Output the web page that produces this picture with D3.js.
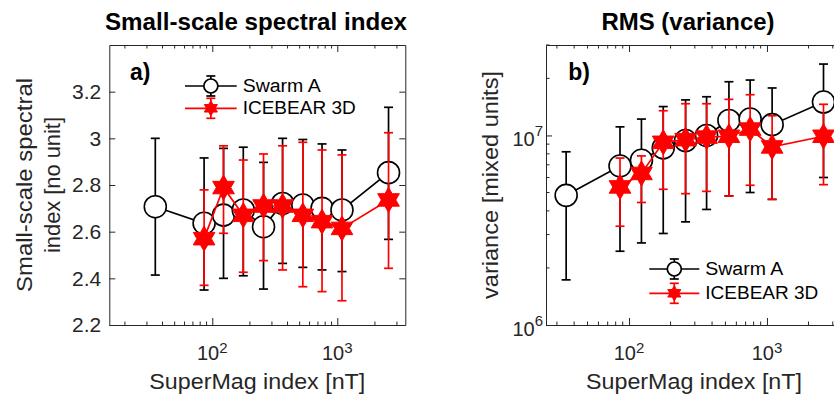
<!DOCTYPE html>
<html>
<head>
<meta charset="utf-8">
<script src="https://cdn.jsdelivr.net/npm/d3@7"></script>
<style>
  body { margin: 0; background: #fff; }
  svg { display: block; font-family: "Liberation Sans", Arial, Helvetica, sans-serif; }
</style>
</head>
<body>
<svg id="chart"></svg>
<script>
// SuperMag index bins [nT]
const smIndex = [35, 86, 123, 177, 257, 365, 530, 755, 1090, 2570];
const iceIndex = [86, 123, 177, 257, 365, 530, 755, 1090, 2570];

// a) small-scale spectral index
const swarmSlope   = [2.707, 2.636, 2.671, 2.693, 2.621, 2.721, 2.714, 2.700, 2.693, 2.853];
const swarmSlopeLo = [2.414, 2.350, 2.400, 2.411, 2.354, 2.464, 2.447, 2.436, 2.429, 2.567];
const swarmSlopeHi = [3.000, 2.916, 2.957, 2.962, 2.897, 3.000, 2.995, 2.976, 2.950, 3.133];
const iceSlope   = [2.570, 2.789, 2.670, 2.710, 2.710, 2.670, 2.643, 2.614, 2.736];
const iceSlopeLo = [2.370, 2.593, 2.426, 2.476, 2.436, 2.364, 2.343, 2.304, 2.443];
const iceSlopeHi = [2.779, 2.968, 2.907, 2.933, 2.968, 2.983, 2.950, 2.929, 3.024];

// b) variance
const swarmVar   = [4.83e6, 6.9e6, 7.4e6, 8.6e6, 9.4e6, 1.0e7, 1.2e7, 1.22e7, 1.14e7, 1.5e7];
const swarmVarLo = [1.73e6, 2.45e6, 2.71e6, 3.04e6, 3.5e6, 4.07e6, 4.8e6, 5.0e6, 4.6e6, 6.0e6];
const swarmVarHi = [8.2e6, 1.11e7, 1.22e7, 1.42e7, 1.54e7, 1.6e7, 1.92e7, 1.96e7, 1.78e7, 2.38e7];
const iceVar   = [5.35e6, 6.3e6, 9.2e6, 9.5e6, 9.8e6, 9.9e6, 1.08e7, 8.7e6, 9.9e6];
const iceVarLo = [3.32e6, 4.43e6, 5.2e6, 4.93e6, 5.07e6, 4.79e6, 5.46e6, 4.6e6, 5.5e6];
const iceVarHi = [7.6e6, 7.8e6, 1.35e7, 1.47e7, 1.47e7, 1.55e7, 1.64e7, 1.27e7, 1.46e7];

// ticks
const xMajor = [100, 1000];
const xMinor = [20, 30, 40, 50, 60, 70, 80, 90, 200, 300, 400, 500, 600, 700, 800, 900, 2000, 3000];
const slopeTicks = [2.2, 2.4, 2.6, 2.8, 3.0, 3.2];
const varMajor = [1e6, 1e7];
const varMinor = [2e6, 3e6, 4e6, 5e6, 6e6, 7e6, 8e6, 9e6, 2e7, 3e7];

const seriesNames = ["Swarm A", "ICEBEAR 3D"];

const width = 834;
const height = 396;
const axisColor = "#262626";

let svg = d3.select("#chart").attr("width", width).attr("height", height);

// MATLAB style hexagram marker
function hexagram(r) {
    let pts = [];
    for (let k = 0; k < 12; k++) {
        let a = -Math.PI / 2 + k * Math.PI / 6;
        let rr = k % 2 === 0 ? r : r / Math.sqrt(3);
        pts.push([rr * Math.cos(a), rr * Math.sin(a)]);
    }
    return "M" + pts.map(p => p[0].toFixed(2) + "," + p[1].toFixed(2)).join("L") + "Z";
}

function drawSeries(g, x, y, xs, vals, lo, hi, color, marker) {
    let pts = xs.map((d, i) => ({ x: d, v: vals[i], lo: lo[i], hi: hi[i] }));

    g.append("path")
        .datum(pts)
        .attr("fill", "none")
        .attr("stroke", color)
        .attr("stroke-width", 1.7)
        .attr("d", d3.line().x(d => x(d.x)).y(d => y(d.v)));

    let eb = g.append("g").attr("stroke", color).attr("stroke-width", 1.7);
    eb.selectAll(".stem").data(pts).join("line")
        .attr("x1", d => x(d.x)).attr("x2", d => x(d.x))
        .attr("y1", d => y(d.lo)).attr("y2", d => y(d.hi));
    eb.selectAll(".capHi").data(pts).join("line")
        .attr("x1", d => x(d.x) - 4.5).attr("x2", d => x(d.x) + 4.5)
        .attr("y1", d => y(d.hi)).attr("y2", d => y(d.hi));
    eb.selectAll(".capLo").data(pts).join("line")
        .attr("x1", d => x(d.x) - 4.5).attr("x2", d => x(d.x) + 4.5)
        .attr("y1", d => y(d.lo)).attr("y2", d => y(d.lo));

    if (marker === "circle") {
        g.selectAll(".mk-circle").data(pts).join("circle")
            .attr("cx", d => x(d.x)).attr("cy", d => y(d.v)).attr("r", 11)
            .attr("fill", "#fff").attr("stroke", color).attr("stroke-width", 1.6);
    } else {
        g.selectAll(".mk-star").data(pts).join("path")
            .attr("transform", d => `translate(${x(d.x)},${y(d.v)})`)
            .attr("d", hexagram(12.5))
            .attr("fill", color).attr("stroke", color).attr("stroke-width", 1);
    }
}

function drawLegend(g, lg) {
    let rows = [
        { name: seriesNames[0], color: "#000", marker: "circle", len: 78 },
        { name: seriesNames[1], color: "#ff0000", marker: "star", len: 113 }
    ];
    rows.forEach((r, i) => {
        let yy = lg.y[i];
        let xm = (lg.x0 + lg.x1) / 2;
        let row = g.append("g").attr("stroke", r.color).attr("stroke-width", 1.7);
        row.append("line").attr("x1", lg.x0).attr("x2", lg.x1).attr("y1", yy).attr("y2", yy);
        row.append("line").attr("x1", xm).attr("x2", xm).attr("y1", yy - 10).attr("y2", yy + 10);
        row.append("line").attr("x1", xm - 4.5).attr("x2", xm + 4.5).attr("y1", yy - 10).attr("y2", yy - 10);
        row.append("line").attr("x1", xm - 4.5).attr("x2", xm + 4.5).attr("y1", yy + 10).attr("y2", yy + 10);
        if (r.marker === "circle") {
            row.append("circle").attr("cx", xm).attr("cy", yy).attr("r", 7).attr("fill", "#fff");
        } else {
            row.append("path").attr("transform", `translate(${xm},${yy})`)
                .attr("d", hexagram(7.5)).attr("fill", r.color).attr("stroke-width", 1);
        }
        g.append("text")
            .attr("x", lg.x1 + 6).attr("y", yy + 6)
            .attr("font-size", 18).attr("fill", "#000")
            .attr("textLength", r.len).attr("lengthAdjust", "spacingAndGlyphs")
            .text(r.name);
    });
}

function drawPanel(p) {
    let g = svg.append("g").attr("transform", `translate(${p.left},${p.top})`);

    let x = d3.scaleLog().domain(p.xDomain).range([0, p.w]);
    let y = (p.yLog ? d3.scaleLog() : d3.scaleLinear()).domain(p.yDomain).range([p.h, 0]);

    // minor ticks (inward, all four sides)
    let minor = g.append("g").attr("stroke", axisColor).attr("stroke-width", 1);
    let xm = xMinor.filter(d => d > p.xDomain[0] && d < p.xDomain[1]);
    minor.selectAll(".mb").data(xm).join("line")
        .attr("x1", d => x(d)).attr("x2", d => x(d)).attr("y1", p.h).attr("y2", p.h - 3.5);
    minor.selectAll(".mt").data(xm).join("line")
        .attr("x1", d => x(d)).attr("x2", d => x(d)).attr("y1", 0).attr("y2", 3.5);
    if (p.yLog) {
        minor.selectAll(".ml").data(varMinor).join("line")
            .attr("x1", 0).attr("x2", 3.5).attr("y1", d => y(d)).attr("y2", d => y(d));
        minor.selectAll(".mr").data(varMinor).join("line")
            .attr("x1", p.w).attr("x2", p.w - 3.5).attr("y1", d => y(d)).attr("y2", d => y(d));
    }

    // major ticks + box
    let noLabel = () => "";
    let yMajor = p.yLog ? varMajor : slopeTicks;
    let axes = [
        g.append("g").attr("transform", `translate(0,${p.h})`)
            .call(d3.axisBottom(x).tickValues(xMajor).tickSize(-7).tickSizeOuter(0).tickFormat(noLabel)),
        g.append("g")
            .call(d3.axisTop(x).tickValues(xMajor).tickSize(-7).tickSizeOuter(0).tickFormat(noLabel)),
        g.append("g").attr("transform", `translate(${p.w},0)`)
            .call(d3.axisRight(y).tickValues(yMajor).tickSize(-6).tickSizeOuter(0).tickFormat(noLabel)),
        g.append("g")
            .call(d3.axisLeft(y).tickValues(yMajor).tickSize(-6).tickSizeOuter(0).tickPadding(8)
                .tickFormat(p.yLog ? noLabel : d3.format("~g")))
    ];
    axes.forEach(a => {
        a.attr("font-family", null).attr("font-size", 21);
        a.select(".domain").attr("stroke", axisColor);
        a.selectAll(".tick line").attr("stroke", axisColor);
        a.selectAll(".tick text").attr("fill", axisColor);
    });

    // x tick labels 10^n
    g.selectAll(".xlab").data(xMajor).join("text")
        .attr("x", d => x(d)).attr("y", p.h + 35)
        .attr("text-anchor", "middle").attr("font-size", 20).attr("fill", axisColor)
        .each(function (d) {
            let t = d3.select(this);
            t.append("tspan").text("10");
            t.append("tspan").attr("font-size", 15).attr("dy", -7.5).text(Math.round(Math.log10(d)));
        });

    if (p.yLog) {
        g.selectAll(".ylab").data(varMajor).join("text")
            .attr("x", -3).attr("y", d => y(d) + 11)
            .attr("text-anchor", "end").attr("font-size", 20).attr("fill", axisColor)
            .each(function (d) {
                let t = d3.select(this);
                t.append("tspan").text("10");
                t.append("tspan").attr("font-size", 15).attr("dy", -10).text(Math.round(Math.log10(d)));
            });
    }

    // data: Swarm first, ICEBEAR on top
    drawSeries(g, x, y, smIndex, p.swarm[0], p.swarm[1], p.swarm[2], "#000", "circle");
    drawSeries(g, x, y, iceIndex, p.ice[0], p.ice[1], p.ice[2], "#ff0000", "star");

    drawLegend(g, p.legend);

    // panel letter
    g.append("text").attr("x", p.letterX).attr("y", 35)
        .attr("font-size", 23).attr("font-weight", "bold").attr("fill", "#000")
        .text(p.letter);

    // title
    g.append("text").attr("x", p.w / 2 + p.titleDx).attr("y", -15)
        .attr("text-anchor", "middle").attr("font-size", 23).attr("font-weight", "bold")
        .attr("textLength", p.titleLen).attr("lengthAdjust", "spacingAndGlyphs")
        .attr("fill", "#000")
        .text(p.title);

    // x label
    g.append("text").attr("x", p.w / 2).attr("y", p.h + 64)
        .attr("text-anchor", "middle").attr("font-size", 22).attr("fill", axisColor)
        .attr("textLength", 216).attr("lengthAdjust", "spacingAndGlyphs")
        .text("SuperMag index [nT]");

    // y label (one or two lines)
    p.yLabel.forEach((line, i) => {
        g.append("text")
            .attr("transform", `translate(${p.yLabelX[i]},${p.h / 2}) rotate(-90)`)
            .attr("text-anchor", "middle").attr("font-size", 22).attr("fill", axisColor)
            .attr("textLength", p.yLabelLen[i]).attr("lengthAdjust", "spacingAndGlyphs")
            .text(line);
    });
}

drawPanel({
    left: 109.3, top: 45, w: 296, h: 280,
    xDomain: [15, 3500], yDomain: [2.2, 3.4], yLog: false,
    swarm: [swarmSlope, swarmSlopeLo, swarmSlopeHi],
    ice: [iceSlope, iceSlopeLo, iceSlopeHi],
    legend: { x0: 75.7, x1: 127.4, y: [41, 63.3] },
    letter: "a)", letterX: 20.7,
    title: "Small-scale spectral index", titleDx: -1.3, titleLen: 302,
    yLabel: ["Small-scale spectral", "index [no unit]"],
    yLabelX: [-77.8, -49.8], yLabelLen: [214, 136]
});

drawPanel({
    left: 546, top: 45, w: 296, h: 280,
    xDomain: [25, 3500], yDomain: [1e6, 3e7], yLog: true,
    swarm: [swarmVar, swarmVarLo, swarmVarHi],
    ice: [iceVar, iceVarLo, iceVarHi],
    legend: { x0: 103.3, x1: 153.3, y: [224, 248.3] },
    letter: "b)", letterX: 22.3,
    title: "RMS (variance)", titleDx: -6, titleLen: 173,
    yLabel: ["variance [mixed units]"],
    yLabelX: [-48], yLabelLen: [228]
});
</script>
</body>
</html>
